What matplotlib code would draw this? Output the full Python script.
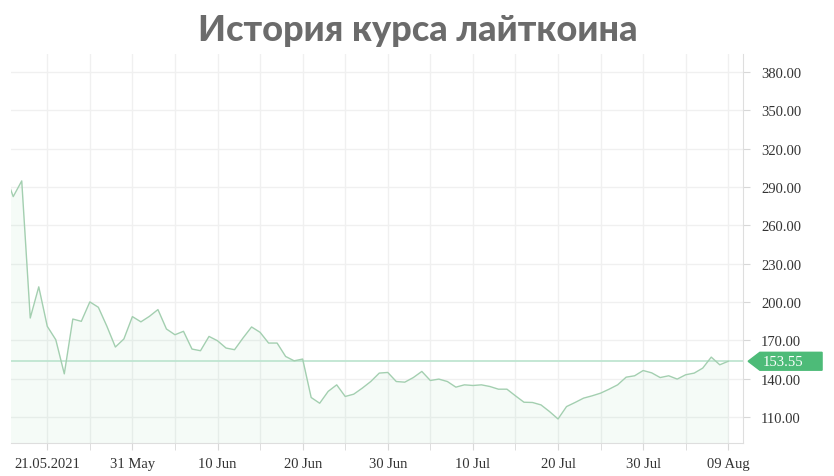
import matplotlib.pyplot as plt
import matplotlib.dates as mdates
from matplotlib.patches import Polygon
from matplotlib.transforms import blended_transform_factory, ScaledTranslation
import numpy as np
import pandas as pd

plt.rcParams['font.family'] = 'serif'
plt.rcParams['font.serif'] = ['Liberation Serif', 'DejaVu Serif']

# LTC price, daily, 16 May - 09 Aug 2021
dates = pd.date_range('2021-05-16', '2021-08-09', freq='D')
prices = [301, 282.4, 294.7, 187.4, 211.8, 180.9, 170.4, 143.7, 186.6, 184.8,
          200, 195.8, 181, 164.7, 171, 188.5,
          184.4, 188.7, 194, 178.8, 174.3, 177, 163.1, 161.8, 173, 169.6,
          163.9, 162.6, 171.8, 180.4, 176.2, 167.8, 167.8, 157.3, 153.9, 155.3,
          125.2, 120.7, 130, 135.1, 126, 127.8, 132.5, 137.7, 144.3, 144.8,
          137.7, 137.2, 140.8, 145.6, 138.5, 139.6, 137.7, 133.3, 135.1, 134.6,
          135.1, 133.8, 131.7, 131.7, 126.5, 121.5, 121.3, 119.4, 114.2, 108.4,
          118.1, 121.3, 124.7, 126.5, 128.6, 131.7, 135.1, 141.1, 142.2, 146.3,
          144.5,
          140.8, 142.2, 139.6, 143, 144.3, 148.2, 156.8, 150.8, 153.55]
last_price = prices[-1]

yticks = [110, 140, 170, 200, 230, 260, 290, 320, 350, 380]
xtick_dates = pd.date_range('2021-05-21', '2021-08-09', freq='10D')
xtick_labels = ['21.05.2021', '31 May', '10 Jun', '20 Jun', '30 Jun',
                '10 Jul', '20 Jul', '30 Jul', '09 Aug']
grid_dates = pd.date_range('2021-05-21', '2021-08-09', freq='5D')

title = 'История курса лайткоина'

fig = plt.figure(figsize=(8.34, 4.77), dpi=100)
ax = fig.add_axes([0.0132, 0.0692, 0.8777, 0.8155])

x = mdates.date2num(dates)
ax.plot(x, prices, color='#a3cfb0', lw=1.0, zorder=3)
ax.fill_between(x, prices, 0, color='#4cbb78', alpha=0.055, lw=0, zorder=2)

ax.axhline(last_price, color='#bfe5d1', lw=1.3, zorder=2)

x0 = mdates.date2num(pd.Timestamp('2021-05-17')) - 0.26
x1 = mdates.date2num(pd.Timestamp('2021-08-09')) + 1.73
ax.set_xlim(x0, x1)
ax.set_ylim(89.6, 394)

ax.yaxis.tick_right()
ax.set_yticks(yticks)
ax.set_yticklabels(['%.2f' % v for v in yticks])
ax.set_xticks(mdates.date2num(xtick_dates))
ax.set_xticklabels(xtick_labels)
ax.set_xticks(mdates.date2num(grid_dates), minor=True)

for lab in ax.get_xticklabels() + ax.get_yticklabels():
    lab.set_fontsize(10.5)
    lab.set_color('#333333')
first = ax.get_xticklabels()[0]
first.set_transform(first.get_transform() + ScaledTranslation(-7 / 100, 0, fig.dpi_scale_trans))

ax.tick_params(axis='y', length=5, color='#d8d8d8', pad=8)
ax.tick_params(axis='x', which='both', length=5, color='#d8d8d8', pad=5)

ax.grid(True, which='major', axis='y', color='#f0f0f0', lw=1)
ax.grid(True, which='both', axis='x', color='#f0f0f0', lw=1)
ax.set_axisbelow(True)

for s in ['left', 'top']:
    ax.spines[s].set_visible(False)
for s in ['right', 'bottom']:
    ax.spines[s].set_color('#dedede')

# price tag on the right
tr = blended_transform_factory(ax.transAxes, ax.transData)
h = 7.0
tag = Polygon([(1.007, last_price), (1.023, last_price + h), (1.108, last_price + h),
               (1.108, last_price - h), (1.023, last_price - h)],
              closed=True, transform=tr, color='#4dbb78', clip_on=False, zorder=5)
ax.add_patch(tag)
ax.text(1.027, last_price, '%.2f' % last_price, transform=tr, color='white',
        fontsize=10.5, va='center', ha='left', zorder=6)

fig.text(0.501, 0.937, title, ha='center', va='center', fontsize=26,
         fontweight='black', family=['Lato', 'DejaVu Sans'], color='#6b6b6b')

fig.savefig('out.png', dpi=100)
